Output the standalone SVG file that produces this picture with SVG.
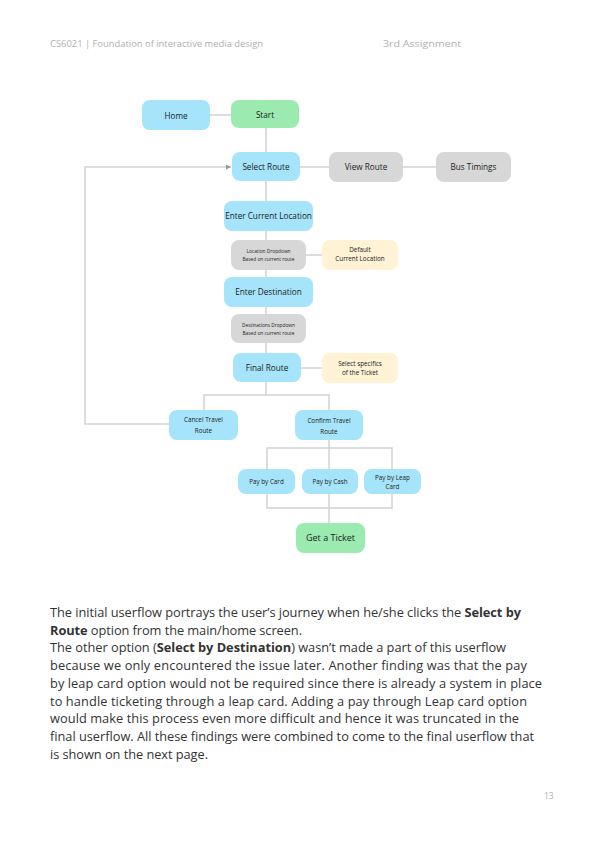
<svg xmlns="http://www.w3.org/2000/svg" width="595" height="842" viewBox="0 0 595 842">
<defs>
<style>
.b{fill:#a5e4fa}.g{fill:#9beab0}.gr{fill:#d7d7d7}.y{fill:#fff2d5}
.l{fill:#222;font-family:"Open Sans","Noto Sans",sans-serif;text-anchor:middle}
.n{font-size:8.2px}.s{font-size:6.3px}.t{font-size:4.8px}
.c{fill:none;stroke:#d2d2d2;stroke-width:1.5}
.body{font-family:"Open Sans","Noto Sans",sans-serif;font-size:12.8px;fill:#333}
.hd{font-family:"Open Sans","Noto Sans",sans-serif;font-size:8.5px;fill:#b0b0b0}
</style>
<marker id="ar" markerWidth="6" markerHeight="6" refX="5" refY="3" orient="auto" markerUnits="userSpaceOnUse"><path d="M0,0.5 L5,3 L0,5.5 Z" fill="#999"/></marker>
</defs>
<rect width="595" height="842" fill="#fff"/>
<text class="hd" x="50" y="47" textLength="213" lengthAdjust="spacingAndGlyphs">CS6021 | Foundation of interactive media design</text>
<text class="hd" x="383" y="47" textLength="78" lengthAdjust="spacingAndGlyphs">3rd Assignment</text>
<g id="connectors">
<line class="c" x1="210" y1="115" x2="231" y2="115"/>
<line class="c" x1="266" y1="128" x2="266" y2="152"/>
<line class="c" x1="300" y1="167" x2="329" y2="167"/>
<line class="c" x1="403" y1="167" x2="436" y2="167"/>
<line class="c" x1="266" y1="181" x2="266" y2="201"/>
<line class="c" x1="266" y1="231" x2="266" y2="240"/>
<line class="c" x1="306" y1="255" x2="322" y2="255"/>
<line class="c" x1="266" y1="270" x2="266" y2="277"/>
<line class="c" x1="266" y1="307" x2="266" y2="314"/>
<line class="c" x1="266" y1="343" x2="266" y2="353"/>
<line class="c" x1="301" y1="368" x2="322" y2="368"/>
<polyline class="c" points="266,382 266,395"/>
<polyline class="c" points="204,410 204,395 329,395 329,410"/>
<polyline class="c" points="169,424 85,424 85,167 231,167" marker-end="url(#ar)"/>
<line class="c" x1="329" y1="440" x2="329" y2="469"/>
<polyline class="c" points="267,469 267,448 392,448 392,469"/>
<polyline class="c" points="267,494 267,508 392,508 392,494"/>
<line class="c" x1="329" y1="494" x2="329" y2="523"/>
</g>
<g id="home"><rect class="b" x="142" y="100" width="68" height="30" rx="8"/><text class="l n" x="176" y="118.5">Home</text></g>
<g id="start"><rect class="g" x="231" y="100" width="68" height="28" rx="8"/><text class="l n" x="265" y="117.5">Start</text></g>
<g id="select-route"><rect class="b" x="232" y="152" width="68" height="29" rx="8"/><text class="l n" x="266" y="169.5">Select Route</text></g>
<g id="view-route"><rect class="gr" x="329" y="152" width="74" height="30" rx="8"/><text class="l n" x="366" y="169.5">View Route</text></g>
<g id="bus-timings"><rect class="gr" x="436" y="152" width="75" height="30" rx="8"/><text class="l n" x="473.5" y="169.5">Bus Timings</text></g>
<g id="enter-current-location"><rect class="b" x="224" y="201" width="89" height="30" rx="8"/><text class="l n" x="268.5" y="218.5">Enter Current Location</text></g>
<g id="location-dropdown"><rect class="gr" x="231" y="240" width="75" height="30" rx="8"/><text class="l t" x="268.5" y="252.5">Location Dropdown</text><text class="l t" x="268.5" y="260.5">Based on current route</text></g>
<g id="default-current-location"><rect class="y" x="322" y="240" width="76" height="30" rx="8"/><text class="l s" x="360" y="252">Default</text><text class="l s" x="360" y="261">Current Location</text></g>
<g id="enter-destination"><rect class="b" x="224" y="277" width="89" height="30" rx="8"/><text class="l n" x="268.5" y="295">Enter Destination</text></g>
<g id="destinations-dropdown"><rect class="gr" x="231" y="314" width="75" height="29" rx="8"/><text class="l t" x="268.5" y="326.5">Destinations Dropdown</text><text class="l t" x="268.5" y="334.5">Based on current route</text></g>
<g id="final-route"><rect class="b" x="233" y="353" width="68" height="29" rx="8"/><text class="l n" x="267" y="371">Final Route</text></g>
<g id="select-specifics"><rect class="y" x="322" y="353" width="76" height="30" rx="8"/><text class="l s" x="360" y="366">Select specifics</text><text class="l s" x="360" y="375">of the Ticket</text></g>
<g id="cancel-travel-route"><rect class="b" x="169" y="410" width="69" height="30" rx="8"/><text class="l s" x="203.5" y="421.5">Cancel Travel</text><text class="l s" x="203.5" y="432.5">Route</text></g>
<g id="confirm-travel-route"><rect class="b" x="295" y="410" width="68" height="30" rx="8"/><text class="l s" x="329" y="422.5">Confirm Travel</text><text class="l s" x="329" y="433.5">Route</text></g>
<g id="pay-by-card"><rect class="b" x="238" y="469" width="57" height="25" rx="8"/><text class="l s" x="266.5" y="483.5">Pay by Card</text></g>
<g id="pay-by-cash"><rect class="b" x="302" y="469" width="56" height="25" rx="8"/><text class="l s" x="330" y="483.5">Pay by Cash</text></g>
<g id="pay-by-leap-card"><rect class="b" x="364" y="469" width="57" height="25" rx="8"/><text class="l s" x="392.5" y="479.5">Pay by Leap</text><text class="l s" x="392.5" y="488.5">Card</text></g>
<g id="get-a-ticket"><rect class="g" x="296" y="523" width="69" height="30" rx="8"/><text class="l" style="font-size:9px" x="330.5" y="541">Get a Ticket</text></g>
<g id="body">
<text class="body" x="50" y="617" textLength="471" lengthAdjust="spacing">The initial userflow portrays the user’s journey when he/she clicks the <tspan font-weight="bold">Select by</tspan></text>
<text class="body" x="50" y="634.5" textLength="252" lengthAdjust="spacing"><tspan font-weight="bold">Route</tspan> option from the main/home screen.</text>
<text class="body" x="50" y="652" textLength="456" lengthAdjust="spacing">The other option (<tspan font-weight="bold">Select by Destination</tspan>) wasn’t made a part of this userflow</text>
<text class="body" x="50" y="670" textLength="477" lengthAdjust="spacing">because we only encountered the issue later. Another finding was that the pay</text>
<text class="body" x="50" y="688" textLength="492" lengthAdjust="spacing">by leap card option would not be required since there is already a system in place</text>
<text class="body" x="50" y="706" textLength="477" lengthAdjust="spacing">to handle ticketing through a leap card. Adding a pay through Leap card option</text>
<text class="body" x="50" y="723" textLength="469" lengthAdjust="spacing">would make this process even more difficult and hence it was truncated in the</text>
<text class="body" x="50" y="741" textLength="484" lengthAdjust="spacing">final userflow. All these findings were combined to come to the final userflow that</text>
<text class="body" x="50" y="759" textLength="158" lengthAdjust="spacing">is shown on the next page.</text>
</g>
<text class="hd" x="544" y="799">13</text>
</svg>
